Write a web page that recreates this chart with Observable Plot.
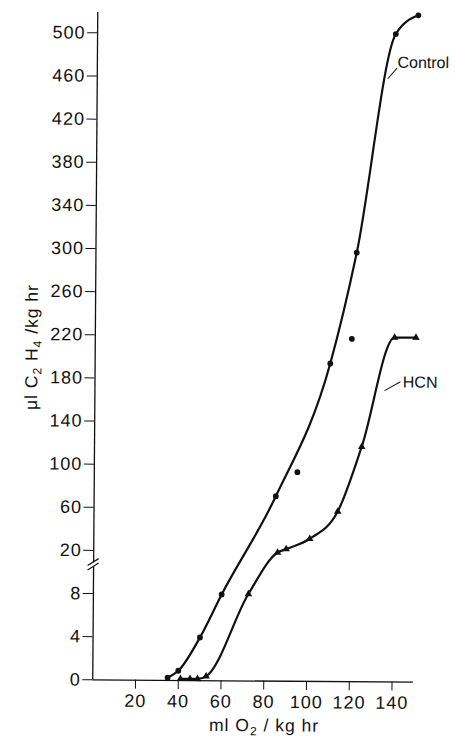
<!DOCTYPE html>
<html>
<head>
<meta charset="utf-8">
<script src="https://cdn.jsdelivr.net/npm/d3@7"></script>
<script src="https://cdn.jsdelivr.net/npm/@observablehq/plot@0.6"></script>
<style>
html, body { margin: 0; padding: 0; background: #fff; overflow: hidden; }
#chart svg { display: block; }
</style>
</head>
<body>
<div id="chart"></div>
<script>
// Control (circles): x = ml O2/kg hr, y = µl C2H4/kg hr
const controlX = [35, 40, 50, 60, 85, 95, 110, 120, 122, 139.5, 150];
const controlY = [0.25, 0.9, 4, 8, 71.5, 94, 195, 218, 298, 501, 518.5];
const controlOnCurve = [true, true, true, true, true, false, true, false, true, true, true];

// HCN (triangles)
const hcnX = [41, 45.5, 49, 53, 72.5, 86, 90, 101, 114, 125, 140, 150];
const hcnY = [0.15, 0.15, 0.15, 0.4, 8.2, 19.8, 22.6, 32.3, 57.8, 118, 219.5, 219.5];

// Axes
const xTicks = [20, 40, 60, 80, 100, 120, 140];
const yTicks = [0, 4, 8, 20, 60, 100, 140, 180, 220, 260, 300, 340, 380, 420, 460, 500];
const yTop = 520;
const breakAt = 16;                // where the "//" sits on the y axis

// Series labels with leader lines
const seriesNames = ["Control", "HCN"];
const nameX = [140.4, 144];
const nameY = [474.5, 178];
const leaderX1 = [135.9, 135.5], leaderY1 = [459.5, 170.2];
const leaderX2 = [140.2, 142.9], leaderY2 = [469.4, 178.6];

// broken axis: 0–8 in steps of 4, 8→20 one step, then steps of 40
const brk = v => v <= 8 ? v / 4 : v <= 20 ? 2 + (v - 8) / 12 : 3 + (v - 20) / 40;

const control = controlX.map((x, i) => ({x, y: brk(controlY[i]), on: controlOnCurve[i]}));
const hcn = hcnX.map((x, i) => ({x, y: brk(hcnY[i])}));
const names = seriesNames.map((name, i) => ({
  name, x: nameX[i], y: brk(nameY[i]),
  x1: leaderX1[i], y1: brk(leaderY1[i]), x2: leaderX2[i], y2: brk(leaderY2[i])
}));
const yTickPos = yTicks.map(brk);

const W = 455, H = 738;
const mL = 92.25, mR = 42.1, mB = 58.7;
const y0 = H - mB;          // pixel of y = 0
const step = 43.13;         // equal spacing between y ticks
const mT = y0 - brk(yTop) * step;
const ink = "#111";

const chart = Plot.plot({
  width: W, height: H,
  marginLeft: mL, marginRight: mR, marginTop: mT, marginBottom: mB,
  style: {fontFamily: "'Liberation Sans', Arial, Helvetica, sans-serif", fontSize: "18px", color: ink, background: "#fff"},
  x: {domain: [0, 150]},
  y: {domain: [0, brk(yTop)]},
  marks: [
    Plot.ruleY([0], {x1: 0, x2: 150, stroke: ink, strokeWidth: 1.3}),
    Plot.ruleX([0], {y1: 0, y2: brk(519), stroke: ink, strokeWidth: 1.3}),
    Plot.axisX({ticks: xTicks, tickSize: 9, tickPadding: 5, label: null, fontSize: 18}),
    Plot.axisY({ticks: yTickPos, tickFormat: d => String(yTicks[yTickPos.indexOf(d)]), tickSize: 10, tickPadding: 2, label: null, fontSize: 18}),
    Plot.line(control.filter(d => d.on), {x: "x", y: "y", curve: "monotone-x", stroke: ink, strokeWidth: 2.2}),
    Plot.line(hcn, {x: "x", y: "y", curve: "monotone-x", stroke: ink, strokeWidth: 2.2}),
    Plot.dot(control, {x: "x", y: "y", r: 2.9, fill: ink}),
    Plot.dot(hcn, {x: "x", y: "y", r: 2.8, symbol: "triangle", fill: ink}),
    Plot.link(names, {x1: "x1", y1: "y1", x2: "x2", y2: "y2", stroke: ink, strokeWidth: 1}),
    Plot.text(names, {x: "x", y: "y", text: "name", textAnchor: "start", fontSize: 16, fill: ink})
  ]
});

const svg = d3.select(chart);
const xs = chart.scale("x"), ys = chart.scale("y");

// wider letter spacing on the tick labels, as in the original lettering
svg.selectAll('g[aria-label="x-axis tick label"], g[aria-label="y-axis tick label"]').style("letter-spacing", "1px");

// axis break "//"
const bx = xs.apply(0), by = ys.apply(brk(breakAt));
svg.append("rect").attr("x", bx - 2).attr("y", by - 2).attr("width", 4).attr("height", 4).attr("fill", "#fff");
for (const off of [-2.2, 2.2]) {
  svg.append("line")
    .attr("x1", bx - 5.5).attr("y1", by + off + 3.5)
    .attr("x2", bx + 5.5).attr("y2", by + off - 3.5)
    .attr("stroke", ink).attr("stroke-width", 1.2);
}

// y title: µl C2H4 /kg hr
const yt = svg.append("text")
  .attr("transform", "translate(35,347.5) rotate(-90)")
  .attr("text-anchor", "middle").attr("font-size", 17.5).attr("fill", ink)
  .style("letter-spacing", "1px");
yt.append("tspan").text("\u03bcl C");
yt.append("tspan").attr("font-size", 12).attr("dy", 4).text("2");
yt.append("tspan").attr("dy", -4).text(" H");
yt.append("tspan").attr("font-size", 12).attr("dy", 4).text("4");
yt.append("tspan").attr("dy", -4).text(" /kg hr");

// x title: ml O2 / kg hr
const xt = svg.append("text")
  .attr("transform", "translate(264.4,730)")
  .attr("text-anchor", "middle").attr("font-size", 17.5).attr("fill", ink)
  .style("letter-spacing", "1px");
xt.append("tspan").text("ml O");
xt.append("tspan").attr("font-size", 12).attr("dy", 4).text("2");
xt.append("tspan").attr("dy", -4).text(" / kg hr");

// the scanned original is tilted very slightly clockwise
chart.style.transformOrigin = `${mL}px ${y0}px`;
chart.style.transform = "rotate(0.43deg)";

document.getElementById("chart").append(chart);
</script>
</body>
</html>
